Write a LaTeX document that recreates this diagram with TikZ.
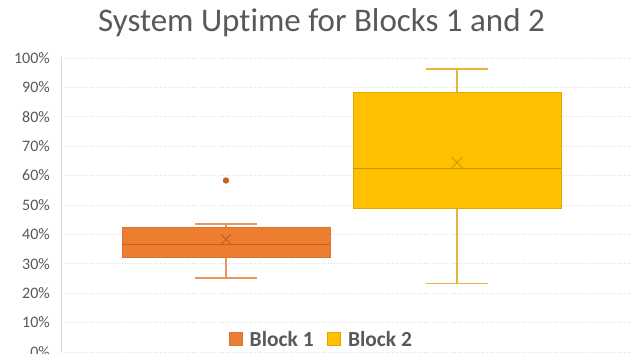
\documentclass[tikz,border=0pt]{standalone}
\usepackage{fontspec}
\setmainfont{Carlito}[Ligatures=NoCommon]
\definecolor{txtgray}{HTML}{595959}
\definecolor{gridgray}{HTML}{D9D9D9}
\definecolor{orfill}{HTML}{ED7D31}
\definecolor{oredge}{HTML}{D8763A}
\definecolor{orline}{HTML}{C6621E}
\definecolor{orwhisk}{HTML}{EB945A}
\definecolor{yefill}{HTML}{FFC000}
\definecolor{yeedge}{HTML}{E0A800}
\definecolor{yeline}{HTML}{C99A00}
\definecolor{yewhisk}{HTML}{E6B43C}
\tikzset{
  gridline/.style={gridgray, line width=0.9pt, dotted},
  ticklabel/.style={anchor=east, text=txtgray, font=\fontsize{16}{16}\selectfont, inner sep=0pt},
  whisker/.style={line width=1.4pt},
  boxbody/.style={line width=1pt},
  meanmark/.style={line width=1pt},
  legtext/.style={anchor=west, text=txtgray, font=\fontsize{21.5}{21.5}\selectfont\bfseries, inner sep=0pt},
  legsquare/.style={minimum width=13pt, minimum height=13pt, inner sep=0pt, line width=0.8pt}
}
\begin{document}
\begin{tikzpicture}[x=1pt, y=-1pt]
\useasboundingbox[fill=white] (0,0) rectangle (644,353);
% title
\node[text=txtgray, font=\fontsize{33}{33}\selectfont, inner sep=0pt] (title) at (321.5,23) {System Uptime for Blocks 1 and 2};
% horizontal grid and value labels (0% at y=352, 100% at y=58)
\foreach \v in {0,10,...,100}{
  \pgfmathsetmacro{\yy}{352-2.94*\v}
  \draw[gridline] (61,\yy) -- (632,\yy);
  \node[ticklabel] (lab\v) at (50,\yy) {\v\%};
}
% value axis
\draw[gridgray, line width=1pt] (61,57) -- (61,353);

% Block 1
\coordinate (b1whtop) at (226,224);
\coordinate (b1whbot) at (226,278);
\draw[orwhisk, whisker] (195,224) -- (257,224);
\draw[orwhisk, whisker] (195,278) -- (257,278);
\draw[orwhisk, whisker] (b1whtop) -- (226,227.7);
\draw[orwhisk, whisker] (226,257.7) -- (b1whbot);
\draw[boxbody, draw=oredge, fill=orfill] (122,227.7) rectangle (330,257.7);
\draw[orline, line width=1.1pt] (122,244.3) -- (330,244.3);
\draw[orline, meanmark] (221,234.3) -- (231,244.3) (221,244.3) -- (231,234.3);
\fill[orline] (226,180.5) circle (3.2);

% Block 2
\coordinate (b2whtop) at (457,69);
\coordinate (b2whbot) at (457,283.3);
\draw[yewhisk, whisker] (426,69) -- (488,69);
\draw[yewhisk, whisker] (426,283.3) -- (488,283.3);
\draw[yewhisk, whisker] (b2whtop) -- (457,92.3);
\draw[yewhisk, whisker] (457,208.3) -- (b2whbot);
\draw[boxbody, draw=yeedge, fill=yefill] (353,92.3) rectangle (561,208.3);
\draw[yeline, line width=1.1pt] (353,168.3) -- (561,168.3);
\draw[yeline, meanmark] (451.5,157) -- (462.5,168) (451.5,168) -- (462.5,157);

% legend
\node[legsquare, fill=orfill, draw=oredge] (leg1sq) at (236,339.2) {};
\node[legtext] (leg1) at (249.5,339.5) {Block 1};
\node[legsquare, fill=yefill, draw=yeedge] (leg2sq) at (334.3,339.2) {};
\node[legtext] (leg2) at (347.8,339.5) {Block 2};
\end{tikzpicture}
\end{document}
